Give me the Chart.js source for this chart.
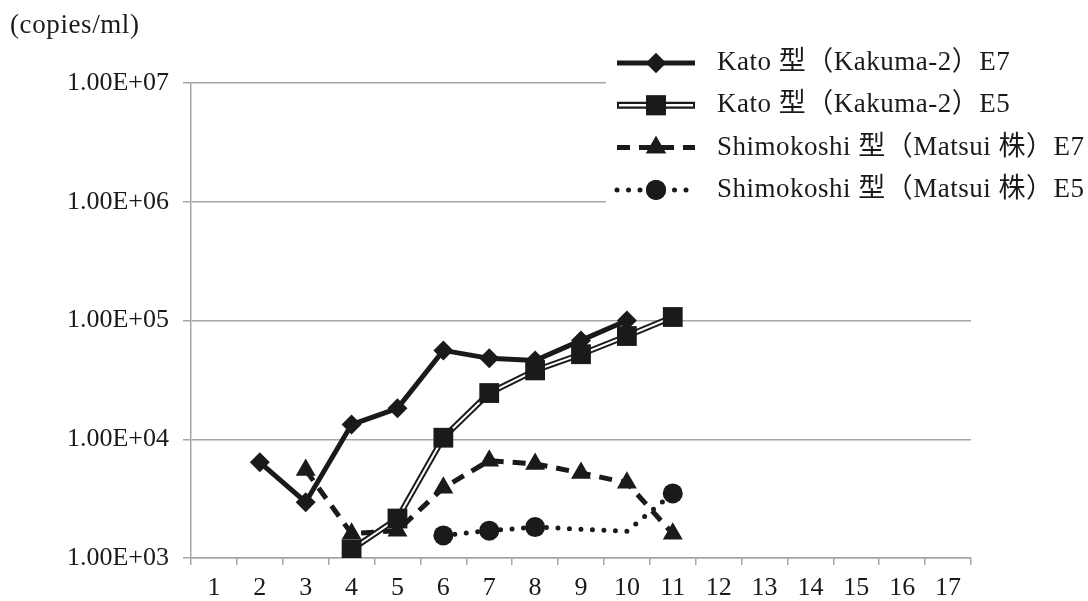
<!DOCTYPE html>
<html><head><meta charset="utf-8">
<script src="https://cdn.jsdelivr.net/npm/chart.js@4/dist/chart.umd.min.js"></script>
<style>html,body{margin:0;padding:0;background:#fff}#wrap{width:1088px;height:601px}</style>
</head><body><div id="wrap"><canvas id="c" width="1088" height="601"></canvas></div>
<script>
const categories = ['1','2','3','4','5','6','7','8','9','10','11','12','13','14','15','16','17'];
const yTickValues = [1e3, 1e4, 1e5, 1e6, 1e7];
const yUnit = '(copies/ml)';
const seriesNames = ['Kato 型（Kakuma-2）E7', 'Kato 型（Kakuma-2）E5', 'Shimokoshi 型（Matsui 株）E7', 'Shimokoshi 型（Matsui 株）E5'];
const katoE7 = [null, 6400, 2950, 13300, 18200, 56000, 48000, 46000, 68000, 100000, null, null, null, null, null, null, null];
const katoE5 = [null, null, null, 1180, 2150, 10300, 24500, 38000, 52000, 74000, 107000, null, null, null, null, null, null];
const shimoE7 = [null, null, 5500, 1600, 1700, 3900, 6600, 6200, 5200, 4300, 1600, null, null, null, null, null, null];
const shimoE5 = [null, null, null, null, null, 1550, 1700, 1820, 1750, 1680, 3500, null, null, null, null, null, null];
const shimoE5Marked = [0,0,0,0,0,1,1,1,0,0,1,0,0,0,0,0,0];

const FONT = "'Liberation Serif', 'Noto Sans CJK JP', serif";
const GRID = '#a6a6a6';
const INK = '#1a1a1a';

const styles = [
  {dash: [], width: 5, double: false, point: 'rectRot', r: 10, cap: 'butt'},
  {dash: [], width: 6, double: true, point: 'rect', r: 14, cap: 'butt'},
  {dash: [13, 9], width: 5, double: false, point: 'triangle', r: 11.5, cap: 'butt'},
  {dash: [0, 11.5], width: 5, double: false, point: 'circle', r: 10, cap: 'round'}
];

const datasets = [
  {label: seriesNames[1] + ' markers', data: katoE5, showLine: false, pointStyle: 'rect', pointRadius: styles[1].r, pointBackgroundColor: INK, pointBorderColor: INK, pointBorderWidth: 0, order: 0},
  {label: seriesNames[1] + ' inner', data: katoE5, borderColor: '#ffffff', borderWidth: 2, pointRadius: 0, order: 1},
  {label: seriesNames[1], data: katoE5, borderColor: INK, borderWidth: 6, pointRadius: 0, order: 2},
  {label: seriesNames[0], data: katoE7, borderColor: INK, borderWidth: styles[0].width, pointStyle: 'rectRot', pointRadius: styles[0].r, pointBackgroundColor: INK, pointBorderColor: INK, pointBorderWidth: 0, order: 3},
  {label: seriesNames[2], data: shimoE7, borderColor: INK, borderWidth: styles[2].width, borderDash: styles[2].dash, pointStyle: 'triangle', pointRadius: styles[2].r, pointBackgroundColor: INK, pointBorderColor: INK, pointBorderWidth: 0, order: 4},
  {label: seriesNames[3], data: shimoE5, borderColor: INK, borderWidth: styles[3].width, borderDash: styles[3].dash, borderCapStyle: 'round', pointStyle: 'circle', pointRadius: shimoE5Marked.map(m => m ? styles[3].r : 0), pointBackgroundColor: INK, pointBorderColor: INK, pointBorderWidth: 0, order: 5}
];

const overlay = {
  id: 'overlay',
  afterDraw(chart) {
    const ctx = chart.ctx;
    ctx.save();
    ctx.fillStyle = INK;
    ctx.font = '27px ' + FONT;
    ctx.letterSpacing = '0.6px';
    ctx.textBaseline = 'middle';
    ctx.textAlign = 'left';
    ctx.fillText(yUnit, 10, 26);
    // legend box
    ctx.fillStyle = '#ffffff';
    ctx.fillRect(606, 40, 482, 172);
    const x0 = 617, x1 = 695, xm = 656, tx = 717;
    for (let i = 0; i < 4; i++) {
      const y = 63 + i * 42.3;
      const s = styles[i];
      ctx.save();
      ctx.strokeStyle = INK;
      ctx.lineCap = s.cap;
      ctx.setLineDash(s.dash);
      ctx.lineWidth = s.double ? 7 : s.width;
      ctx.beginPath(); ctx.moveTo(x0, y); ctx.lineTo(x1, y); ctx.stroke();
      if (s.double) {
        ctx.strokeStyle = '#fff'; ctx.lineWidth = 2.5;
        ctx.beginPath(); ctx.moveTo(x0 + 2, y); ctx.lineTo(x1 - 2, y); ctx.stroke();
      }
      ctx.restore();
      ctx.fillStyle = INK; ctx.strokeStyle = INK;
      Chart.helpers.drawPoint(ctx, {pointStyle: s.point, radius: s.r, rotation: 0, borderWidth: 0}, xm, y);
      ctx.fill();
      ctx.fillStyle = INK;
      ctx.font = '27px ' + FONT;
      ctx.letterSpacing = '0.5px';
      ctx.fillText(seriesNames[i], tx, y);
    }
    ctx.restore();
  }
};

new Chart(document.getElementById('c'), {
  type: 'line',
  data: {labels: categories, datasets},
  options: {
    responsive: false,
    animation: false,
    devicePixelRatio: 1,
    layout: {padding: {left: 0, top: 83, right: 117, bottom: 0}},
    plugins: {legend: {display: false}, tooltip: {enabled: false}},
    elements: {line: {tension: 0}},
    scales: {
      x: {
        type: 'category',
        offset: true,
        afterFit: s => { s.height = 43; },
        grid: {display: true, offset: true, drawOnChartArea: false, drawTicks: true, tickLength: 7, color: GRID, lineWidth: 1.5},
        border: {display: true, color: GRID, width: 1.5},
        ticks: {color: INK, font: {family: FONT, size: 26}, padding: 8, maxRotation: 0, autoSkip: false}
      },
      y: {
        type: 'logarithmic',
        min: 1e3, max: 1e7,
        afterFit: s => { s.width = 191; },
        afterBuildTicks: s => { s.ticks = yTickValues.map(v => ({value: v})); },
        grid: {color: GRID, lineWidth: 1.5, tickLength: 8, drawTicks: true},
        border: {display: true, color: GRID, width: 1.5},
        ticks: {color: INK, font: {family: FONT, size: 26}, padding: 14,
          callback: v => '1.00E+' + String(Math.round(Math.log10(v))).padStart(2, '0')}
      }
    }
  },
  plugins: [overlay]
});
</script>
</body></html>
